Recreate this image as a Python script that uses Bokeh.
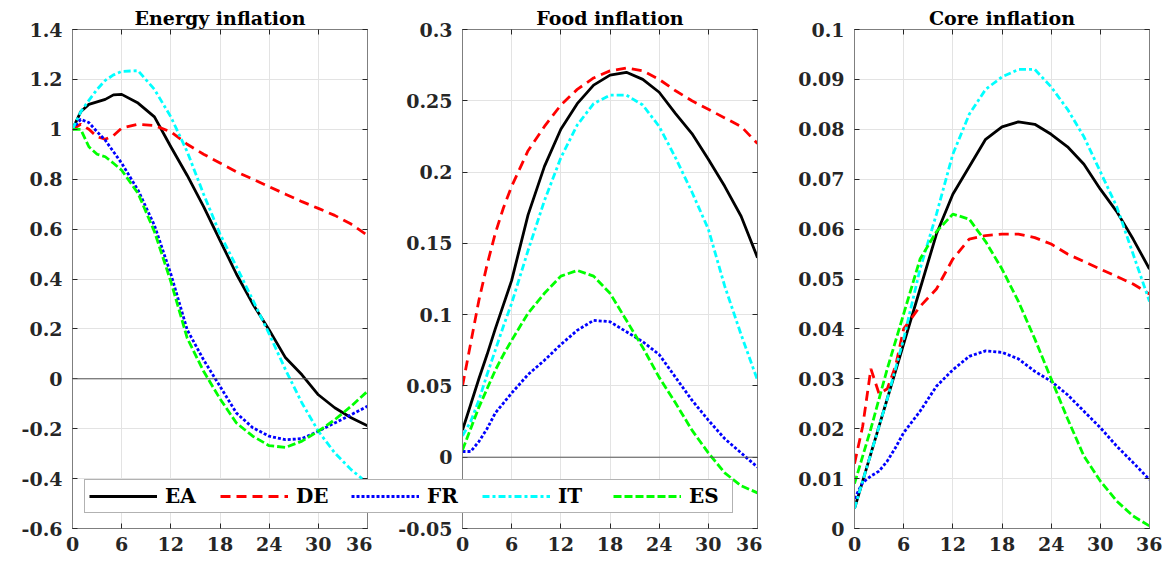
import numpy as np
from bokeh.plotting import figure
from bokeh.models import FixedTicker, LinearAxis, Range1d, Span, Legend, LegendItem
from bokeh.layouts import row, column
from bokeh.embed import file_html
from bokeh.resources import INLINE

# ---------------- data ----------------
months = [0, 1, 2, 3, 4, 5, 6, 8, 10, 12, 14, 16, 18, 20, 22, 24, 26, 28, 30, 32, 34, 36]
series_names = ["EA", "DE", "FR", "IT", "ES"]

energy_EA = [1.00, 1.07, 1.10, 1.11, 1.12, 1.138, 1.14, 1.105, 1.05, 0.93, 0.815, 0.69, 0.555, 0.42, 0.30, 0.196, 0.084, 0.016, -0.064, -0.116, -0.156, -0.188]
energy_DE = [1.00, 1.02, 1.00, 0.97, 0.96, 0.975, 1.005, 1.02, 1.015, 0.99, 0.94, 0.90, 0.865, 0.83, 0.80, 0.77, 0.74, 0.71, 0.683, 0.655, 0.62, 0.575]
energy_FR = [1.00, 1.04, 1.027, 0.99, 0.956, 0.91, 0.864, 0.756, 0.615, 0.42, 0.196, 0.076, -0.03, -0.137, -0.196, -0.23, -0.244, -0.24, -0.21, -0.177, -0.144, -0.11]
energy_IT = [1.00, 1.07, 1.116, 1.16, 1.196, 1.218, 1.232, 1.235, 1.16, 1.05, 0.91, 0.74, 0.58, 0.45, 0.316, 0.18, 0.036, -0.097, -0.21, -0.297, -0.364, -0.418]
energy_ES = [1.00, 1.00, 0.93, 0.90, 0.89, 0.864, 0.836, 0.743, 0.59, 0.39, 0.163, 0.03, -0.08, -0.177, -0.23, -0.268, -0.275, -0.25, -0.21, -0.164, -0.11, -0.05]

food_EA = [0.019, 0.037, 0.055, 0.072, 0.09, 0.107, 0.124, 0.17, 0.204, 0.23, 0.248, 0.261, 0.268, 0.270, 0.265, 0.256, 0.241, 0.227, 0.209, 0.19, 0.169, 0.14]
food_DE = [0.05, 0.08, 0.11, 0.135, 0.157, 0.175, 0.19, 0.215, 0.232, 0.247, 0.258, 0.266, 0.271, 0.273, 0.271, 0.265, 0.257, 0.25, 0.244, 0.238, 0.232, 0.22]
food_FR = [0.004, 0.004, 0.011, 0.02, 0.031, 0.038, 0.045, 0.058, 0.068, 0.079, 0.089, 0.096, 0.095, 0.088, 0.081, 0.072, 0.056, 0.04, 0.026, 0.013, 0.003, -0.007]
food_IT = [0.015, 0.025, 0.04, 0.058, 0.075, 0.092, 0.108, 0.145, 0.18, 0.21, 0.233, 0.248, 0.254, 0.254, 0.247, 0.232, 0.21, 0.186, 0.16, 0.12, 0.086, 0.054]
food_ES = [0.005, 0.02, 0.035, 0.048, 0.061, 0.072, 0.082, 0.101, 0.115, 0.127, 0.131, 0.127, 0.115, 0.096, 0.077, 0.056, 0.038, 0.019, 0.003, -0.011, -0.02, -0.025]

core_EA = [0.004, 0.0095, 0.015, 0.0205, 0.026, 0.0315, 0.037, 0.048, 0.059, 0.067, 0.0725, 0.078, 0.0805, 0.0815, 0.081, 0.079, 0.0765, 0.073, 0.068, 0.0635, 0.058, 0.052]
core_DE = [0.013, 0.0205, 0.032, 0.027, 0.028, 0.0325, 0.040, 0.0445, 0.048, 0.054, 0.058, 0.0587, 0.059, 0.059, 0.0583, 0.057, 0.055, 0.0535, 0.052, 0.0505, 0.049, 0.047]
core_FR = [0.006, 0.0092, 0.0105, 0.0115, 0.0135, 0.0162, 0.0192, 0.0235, 0.0285, 0.0318, 0.0345, 0.0356, 0.0353, 0.034, 0.0315, 0.0295, 0.0268, 0.0235, 0.0202, 0.0165, 0.0132, 0.0098]
core_IT = [0.004, 0.0095, 0.015, 0.0205, 0.026, 0.032, 0.038, 0.052, 0.063, 0.075, 0.083, 0.088, 0.0905, 0.092, 0.092, 0.0885, 0.084, 0.0785, 0.0715, 0.0645, 0.055, 0.0455]
core_ES = [0.009, 0.0145, 0.020, 0.026, 0.032, 0.0375, 0.043, 0.054, 0.0595, 0.063, 0.062, 0.0575, 0.052, 0.0455, 0.038, 0.030, 0.022, 0.0145, 0.0095, 0.0055, 0.0025, 0.0005]

x_ticks = [0, 6, 12, 18, 24, 30, 36]
x_tick_labels = ["0", "6", "12", "18", "24", "30", "36"]
energy_yticks = [-0.6, -0.4, -0.2, 0, 0.2, 0.4, 0.6, 0.8, 1, 1.2, 1.4]
energy_ylabels = ["-0.6", "-0.4", "-0.2", "0", "0.2", "0.4", "0.6", "0.8", "1", "1.2", "1.4"]
food_yticks = [-0.05, 0, 0.05, 0.1, 0.15, 0.2, 0.25, 0.3]
food_ylabels = ["-0.05", "0", "0.05", "0.1", "0.15", "0.2", "0.25", "0.3"]
core_yticks = [0, 0.01, 0.02, 0.03, 0.04, 0.05, 0.06, 0.07, 0.08, 0.09, 0.1]
core_ylabels = ["0", "0.01", "0.02", "0.03", "0.04", "0.05", "0.06", "0.07", "0.08", "0.09", "0.1"]

titles = ["Energy inflation", "Food inflation", "Core inflation"]

# ---------------- styles ----------------
FONT = "DejaVu Serif"
line_styles = {
    "EA": dict(line_color="black", line_dash="solid", line_width=2.8),
    "DE": dict(line_color="#ff0000", line_dash="10 6", line_width=2.8),
    "FR": dict(line_color="#0000ff", line_dash="3 2", line_width=2.8),
    "IT": dict(line_color="#00ffff", line_dash="7 3 3 3", line_width=2.8),
    "ES": dict(line_color="#00ff00", line_dash="8 3", line_width=2.8),
}
AX_COLOR = "#7f7f7f"
TXT_COLOR = "#262626"


def style_axis(ax, ticks, labels, show_labels=True, standoff=6):
    ax.ticker = FixedTicker(ticks=ticks)
    ax.axis_line_color = AX_COLOR
    ax.major_tick_line_color = TXT_COLOR
    ax.major_tick_in = 5
    ax.major_tick_out = 0
    ax.minor_tick_line_color = None
    ax.major_label_text_font = FONT
    ax.major_label_text_font_style = "bold"
    ax.major_label_text_color = TXT_COLOR
    if show_labels:
        ax.major_label_overrides = dict(zip(ticks, labels))
        ax.major_label_text_font_size = "19px"
        ax.major_label_standoff = standoff
    else:
        ax.major_label_overrides = {t: "" for t in ticks}
        ax.major_label_text_font_size = "1px"
        ax.major_label_standoff = 0


def make_panel(title, data, y_lo, y_hi, yticks, ylabels, bl, br, zero_line):
    p = figure(frame_width=295, frame_height=499, x_range=Range1d(0, 36), y_range=Range1d(y_lo, y_hi),
               toolbar_location=None, output_backend="svg", min_border_left=bl, min_border_right=br,
               min_border_top=29, min_border_bottom=31)
    p.title.text = title
    p.title.text_font = FONT
    p.title.text_font_style = "bold"
    p.title.text_font_size = "19px"
    p.title.text_color = "black"
    p.title.align = "center"
    p.title.standoff = 2
    p.outline_line_color = AX_COLOR
    p.background_fill_color = "white"
    p.border_fill_color = "white"
    style_axis(p.xaxis[0], x_ticks, x_tick_labels, standoff=8)
    style_axis(p.yaxis[0], yticks, ylabels, standoff=10)
    top = LinearAxis()
    style_axis(top, x_ticks, x_tick_labels, show_labels=False)
    p.add_layout(top, "above")
    right = LinearAxis()
    style_axis(right, yticks, ylabels, show_labels=False)
    p.add_layout(right, "right")
    p.xgrid.ticker = FixedTicker(ticks=x_ticks)
    p.ygrid.ticker = FixedTicker(ticks=yticks)
    p.grid.grid_line_color = "#e3e3e3"
    p.grid.grid_line_width = 1
    if zero_line:
        p.add_layout(Span(location=0, dimension="width", line_color="#555555", line_width=1))
    for name, ys in zip(series_names, data):
        p.line(months, ys, **line_styles[name])
    return p


p1 = make_panel(titles[0], [energy_EA, energy_DE, energy_FR, energy_IT, energy_ES], -0.6, 1.4,
                energy_yticks, energy_ylabels, 72, 5, True)
p2 = make_panel(titles[1], [food_EA, food_DE, food_FR, food_IT, food_ES], -0.05, 0.3,
                food_yticks, food_ylabels, 90, 5, True)
p3 = make_panel(titles[2], [core_EA, core_DE, core_FR, core_IT, core_ES], 0, 0.1,
                core_yticks, core_ylabels, 92, 13, False)

# ---------------- legend (overlay figure) ----------------
lf = figure(width=652, height=34, x_range=Range1d(100, 101), y_range=Range1d(100, 101),
            toolbar_location=None, output_backend="svg", min_border=0,
            x_axis_location=None, y_axis_location=None)
lf.grid.visible = False
lf.outline_line_color = None
lf.background_fill_alpha = 0
lf.border_fill_alpha = 0
items = []
for name, ys in zip(series_names, [energy_EA, energy_DE, energy_FR, energy_IT, energy_ES]):
    r = lf.line(months, ys, **line_styles[name])
    items.append(LegendItem(label=name, renderers=[r]))
legend = Legend(items=items, orientation="horizontal", location="top_left", margin=0,
                padding=4, spacing=16, glyph_width=68, glyph_height=20, label_width=39,
                label_height=20, label_standoff=8,
                label_text_font=FONT, label_text_font_style="bold", label_text_font_size="20px",
                label_text_color="black", border_line_color="#666666", border_line_width=1,
                background_fill_color="white", background_fill_alpha=1)
lf.add_layout(legend)
lf.margin = (-80, 0, 0, 84)

layout = column(row(p1, p2, p3), lf)
open("out.html", "w").write(file_html(layout, INLINE))
